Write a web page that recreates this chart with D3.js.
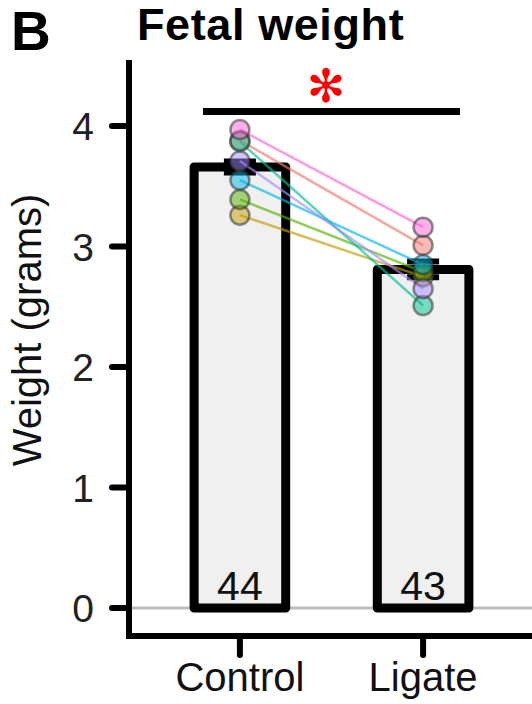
<!DOCTYPE html>
<html>
<head>
<meta charset="utf-8">
<script src="https://cdn.jsdelivr.net/npm/d3@7"></script>
<style>
  body { margin: 0; background: #fff; }
  text { font-family: "Liberation Sans", Arial, sans-serif; }
</style>
</head>
<body>
<div id="canvas"></div>
<script>
// data
const groups = ["Control", "Ligate"];
const barMeans = [3.66, 2.81];
const barSE = [0.045, 0.065];
const counts = [44, 43];
const controlWeights = [3.88, 3.26, 3.39, 3.87, 3.55, 3.71, 3.97];
const ligateWeights = [3.01, 2.75, 2.79, 2.51, 2.85, 2.65, 3.16];
const damColors = ["#F8766D", "#C49A00", "#53B400", "#00C094", "#00B6EB", "#A58AFF", "#FB61D7"];
const yTicks = [0, 1, 2, 3, 4];
const sigLevel = 4.12;

const width = 532;
const height = 704;

const svg = d3.select("#canvas").append("svg")
  .attr("width", width)
  .attr("height", height);

const x = d3.scalePoint().domain(groups).range([130, 533]).padding(0.6);
const barW = x.step() * 0.5;
const y = d3.scaleLinear().domain([0, 4]).range([608, 126]);

const panelTop = 60;
const panelBottom = 636;
const axisX = 129;

// zero reference line
svg.append("line")
  .attr("x1", axisX).attr("x2", width)
  .attr("y1", y(0)).attr("y2", y(0))
  .attr("stroke", "#bdbdbd").attr("stroke-width", 3);

// bars
const bars = groups.map((g, i) => ({ g, mean: barMeans[i], se: barSE[i], n: counts[i] }));

svg.selectAll("rect.bar").data(bars).enter()
  .append("rect")
  .attr("class", "bar")
  .attr("x", (d) => x(d.g) - barW / 2)
  .attr("width", barW)
  .attr("y", (d) => y(d.mean))
  .attr("height", (d) => y(0) - y(d.mean))
  .attr("fill", "#f0f0f0")
  .attr("stroke", "#000")
  .attr("stroke-width", 9)
  .attr("stroke-linejoin", "round");

// error bars
const eb = svg.selectAll("g.eb").data(bars).enter().append("g").attr("class", "eb")
  .attr("stroke", "#000").attr("stroke-width", 6);
eb.append("line")
  .attr("x1", (d) => x(d.g)).attr("x2", (d) => x(d.g))
  .attr("y1", (d) => y(d.mean + d.se)).attr("y2", (d) => y(d.mean - d.se));
eb.append("line")
  .attr("x1", (d) => x(d.g) - 16).attr("x2", (d) => x(d.g) + 16)
  .attr("y1", (d) => y(d.mean + d.se)).attr("y2", (d) => y(d.mean + d.se));
eb.append("line")
  .attr("x1", (d) => x(d.g) - 16).attr("x2", (d) => x(d.g) + 16)
  .attr("y1", (d) => y(d.mean - d.se)).attr("y2", (d) => y(d.mean - d.se));

// n labels inside bars
svg.selectAll("text.n").data(bars).enter()
  .append("text")
  .attr("class", "n")
  .attr("x", (d) => x(d.g))
  .attr("y", 600)
  .attr("text-anchor", "middle")
  .attr("font-size", 41)
  .attr("fill", "#111")
  .text((d) => d.n);

// paired dam lines
const dams = damColors.map((c, i) => ({ c, ctl: controlWeights[i], lig: ligateWeights[i] }));

svg.selectAll("line.pair").data(dams).enter()
  .append("line")
  .attr("class", "pair")
  .attr("x1", x("Control")).attr("x2", x("Ligate"))
  .attr("y1", (d) => y(d.ctl)).attr("y2", (d) => y(d.lig))
  .attr("stroke", (d) => d.c)
  .attr("stroke-opacity", 0.65)
  .attr("stroke-width", 2.5);

// dam points
const pts = [];
dams.forEach((d) => {
  pts.push({ g: "Control", v: d.ctl, c: d.c });
  pts.push({ g: "Ligate", v: d.lig, c: d.c });
});
svg.selectAll("circle.pt").data(pts).enter()
  .append("circle")
  .attr("class", "pt")
  .attr("cx", (d) => x(d.g))
  .attr("cy", (d) => y(d.v))
  .attr("r", 9.5)
  .attr("fill", (d) => d.c)
  .attr("fill-opacity", 0.5)
  .attr("stroke", "#333")
  .attr("stroke-opacity", 0.55)
  .attr("stroke-width", 2.5);

// significance bar + asterisk
svg.append("line")
  .attr("x1", 203).attr("x2", 460)
  .attr("y1", y(sigLevel)).attr("y2", y(sigLevel))
  .attr("stroke", "#000").attr("stroke-width", 7);
svg.append("text")
  .attr("x", 326)
  .attr("y", 86)
  .attr("text-anchor", "middle")
  .attr("dominant-baseline", "central")
  .attr("font-size", 46)
  .style("font-family", "DejaVu Sans")
  .attr("fill", "#ff0000")
  .text("\u273B");

// axes
const yAxis = svg.append("g");
yAxis.append("line")
  .attr("x1", axisX).attr("x2", axisX)
  .attr("y1", panelTop).attr("y2", panelBottom + 3)
  .attr("stroke", "#000").attr("stroke-width", 6);
yAxis.selectAll("line.tick").data(yTicks).enter()
  .append("line")
  .attr("x1", 112).attr("x2", axisX)
  .attr("y1", (d) => y(d)).attr("y2", (d) => y(d))
  .attr("stroke", "#000").attr("stroke-width", 6).attr("stroke-linecap", "round");
yAxis.selectAll("text").data(yTicks).enter()
  .append("text")
  .attr("x", 94)
  .attr("y", (d) => y(d) + 14)
  .attr("text-anchor", "end")
  .attr("font-size", 39)
  .attr("fill", "#222")
  .text((d) => d);

const xAxis = svg.append("g");
xAxis.append("line")
  .attr("x1", axisX - 3).attr("x2", width)
  .attr("y1", panelBottom).attr("y2", panelBottom)
  .attr("stroke", "#000").attr("stroke-width", 6);
xAxis.selectAll("line.tick").data(groups).enter()
  .append("line")
  .attr("x1", (d) => x(d)).attr("x2", (d) => x(d))
  .attr("y1", panelBottom).attr("y2", 655)
  .attr("stroke", "#000").attr("stroke-width", 6).attr("stroke-linecap", "round");
xAxis.selectAll("text").data(groups).enter()
  .append("text")
  .attr("x", (d) => x(d))
  .attr("y", 691)
  .attr("text-anchor", "middle")
  .attr("font-size", 40)
  .attr("fill", "#111")
  .text((d) => d);

// axis title
svg.append("text")
  .attr("transform", "translate(41,330) rotate(-90)")
  .attr("text-anchor", "middle")
  .attr("font-size", 40)
  .attr("fill", "#111")
  .text("Weight (grams)");

// panel letter + title
svg.append("text")
  .attr("x", 11).attr("y", 50)
  .attr("font-size", 55).attr("font-weight", "bold")
  .text("B");
svg.append("text")
  .attr("x", 137).attr("y", 40)
  .attr("font-size", 45).attr("font-weight", "bold")
  .attr("letter-spacing", 0.6)
  .text("Fetal weight");
</script>
</body>
</html>
